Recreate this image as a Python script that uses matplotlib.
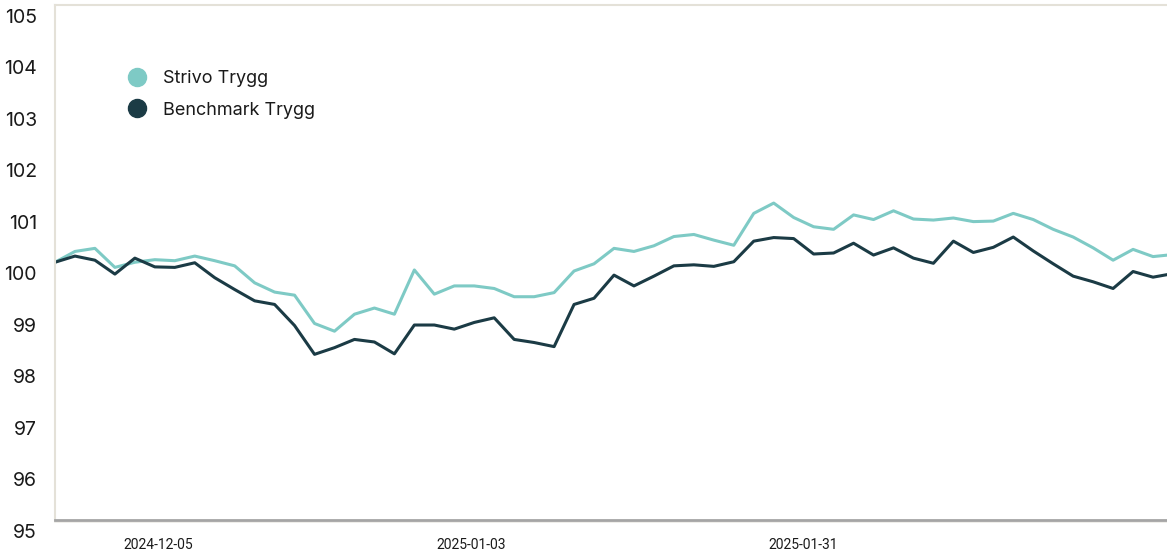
import matplotlib
matplotlib.use("Agg")
import matplotlib.pyplot as plt
from matplotlib.lines import Line2D
from matplotlib.transforms import ScaledTranslation
import numpy as np

# index values (start = 100)
strivo = [100.00, 100.21, 100.27, 99.90, 100.00, 100.05, 100.03, 100.12, 100.03, 99.93,
          99.60, 99.42, 99.36, 98.81, 98.66, 98.99, 99.11, 98.99, 99.85, 99.38,
          99.54, 99.54, 99.49, 99.33, 99.33, 99.41, 99.83, 99.97, 100.27, 100.21,
          100.32, 100.50, 100.54, 100.43, 100.33, 100.95, 101.15, 100.87, 100.69, 100.64,
          100.92, 100.83, 101.00, 100.84, 100.82, 100.86, 100.79, 100.80, 100.95, 100.83,
          100.64, 100.49, 100.28, 100.04, 100.25, 100.11, 100.15]
benchmark = [100.00, 100.12, 100.04, 99.77, 100.08, 99.91, 99.90, 99.99, 99.70, 99.47,
             99.25, 99.18, 98.77, 98.21, 98.34, 98.50, 98.45, 98.22, 98.78, 98.78,
             98.70, 98.83, 98.92, 98.50, 98.44, 98.36, 99.18, 99.30, 99.75, 99.54,
             99.73, 99.93, 99.95, 99.92, 100.01, 100.41, 100.48, 100.46, 100.16, 100.18,
             100.37, 100.14, 100.28, 100.08, 99.98, 100.41, 100.19, 100.29, 100.49, 100.22,
             99.97, 99.73, 99.62, 99.49, 99.82, 99.71, 99.78]
date_ticks = [5.15, 20.85, 37.45]
date_labels = ["2024-12-05", "2025-01-03", "2025-01-31"]
y_ticks = [95, 96, 97, 98, 99, 100, 101, 102, 103, 104, 105]

teal = "#7ecac5"
dark = "#1b3b45"

fig = plt.figure(figsize=(11.67, 5.54), dpi=100)
ax = fig.add_axes([55 / 1167, (554 - 519.5) / 554, 1 - 55 / 1167, (519.5 - 5) / 554])

x = np.arange(len(strivo))
ax.plot(x, strivo, color=teal, lw=2.2)
ax.plot(x, benchmark, color=dark, lw=2.2)

ax.set_xlim(0, 55.7)
ax.set_ylim(95, 105)

for s in ["top", "left"]:
    ax.spines[s].set_color("#e4e1d8")
    ax.spines[s].set_linewidth(1.5)
ax.spines["right"].set_visible(False)
ax.spines["bottom"].set_color("#a5a5a5")
ax.spines["bottom"].set_linewidth(2)
# faint second rule just under the x axis
shadow = Line2D([0, 1], [0, 0], color="#ecebe6", lw=1.2, zorder=0, clip_on=False,
                transform=ax.transAxes + ScaledTranslation(0, -2.5 / 100, fig.dpi_scale_trans))
ax.add_line(shadow)

ax.set_yticks(y_ticks)
ax.set_yticklabels([str(v) for v in y_ticks], fontsize=14, family=["Inter", "DejaVu Sans"], color="#1a1a1a")
ax.set_xticks(date_ticks)
ax.set_xticklabels(date_labels, fontsize=10, family=["Liberation Sans Narrow", "Roboto", "DejaVu Sans"], color="#1a1a1a")
ax.tick_params(axis="y", length=0, pad=13)
ax.tick_params(axis="x", length=0, pad=13)

# y labels in the reference sit a bit below their grid value
off = ScaledTranslation(0, -11 / 100, fig.dpi_scale_trans)
for lab in ax.get_yticklabels():
    lab.set_transform(lab.get_transform() + off)

handles = [Line2D([], [], marker="o", ls="", ms=13, color=teal, label="Strivo Trygg"),
           Line2D([], [], marker="o", ls="", ms=13, color=dark, label="Benchmark Trygg")]
leg = ax.legend(handles=handles, loc="upper left", bbox_to_anchor=(62 / 1112, 1 - 56 / 514),
                frameon=False, prop={"family": ["Inter", "DejaVu Sans"], "size": 13},
                handletextpad=0.85, labelspacing=0.8, borderpad=0, handlelength=1.2)
for t in leg.get_texts():
    t.set_color("#1a1a1a")

fig.savefig("out.png", dpi=100)
